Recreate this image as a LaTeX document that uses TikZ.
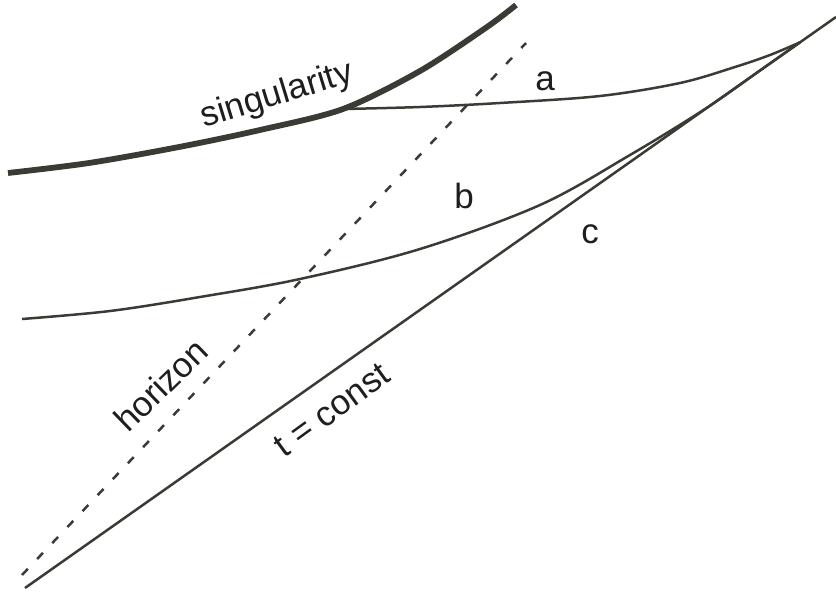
\documentclass[tikz,border=0pt]{standalone}
\usepackage{fontspec}
\setmainfont{Liberation Sans}
\definecolor{linegray}{HTML}{3B3B36}
\definecolor{textgray}{HTML}{1E1E1E}
\tikzset{
  sing/.style={draw=linegray, line width=5.8pt, line cap=butt},
  world/.style={draw=linegray, line width=2.5pt},
  horiz/.style={draw=linegray, line width=2.5pt, dash pattern=on 8.5pt off 13.5pt},
  lbl/.style={text=textgray, font=\fontsize{35}{40}\selectfont, inner sep=0pt}
}
\begin{document}
\begin{tikzpicture}[x=1pt,y=-1pt]
\useasboundingbox (0,0) rectangle (836,592);
% named end points
\coordinate (sStart) at (8,173);
\coordinate (sEnd) at (516,5);
\coordinate (aStart) at (343,109);
\coordinate (cStart) at (25,588);
\coordinate (cEnd) at (836,17);
\coordinate (hStart) at (22,575);
\coordinate (hEnd) at (526,43);
\coordinate (bStart) at (22,319);
\coordinate (abEnd) at (800,42.3);
% horizon
\draw[horiz] (hStart) -- (hEnd);
% t = const line (c)
\draw[world] (cStart) -- (cEnd);
% curve b
\draw[world] plot[smooth, tension=0.55] coordinates {(bStart) (110,311) (200,297) (300,279) (420,249) (540,205) (630,155) (705,109) (760,70.5) (abEnd)};
% curve a
\draw[world] plot[smooth, tension=0.55] coordinates {(aStart) (420,107) (500,103) (600,96) (680,83) (735,67) (770,55) (abEnd)};
% singularity
\draw[sing] plot[smooth, tension=0.5] coordinates {(sStart) (89,163) (179,147) (260,130) (aStart) (420,71) (487,27) (sEnd)};
% labels
\node[lbl, rotate=17] (tSing) at (277,96) {singularity};
\node[lbl] (tA) at (545,81) {a};
\node[lbl] (tB) at (464,196) {b};
\node[lbl] (tC) at (590,234) {c};
\node[lbl, rotate=44] (tHor) at (161,385) {horizon};
\node[lbl, rotate=36] (tT) at (332,410) {t = const};
\end{tikzpicture}
\end{document}
